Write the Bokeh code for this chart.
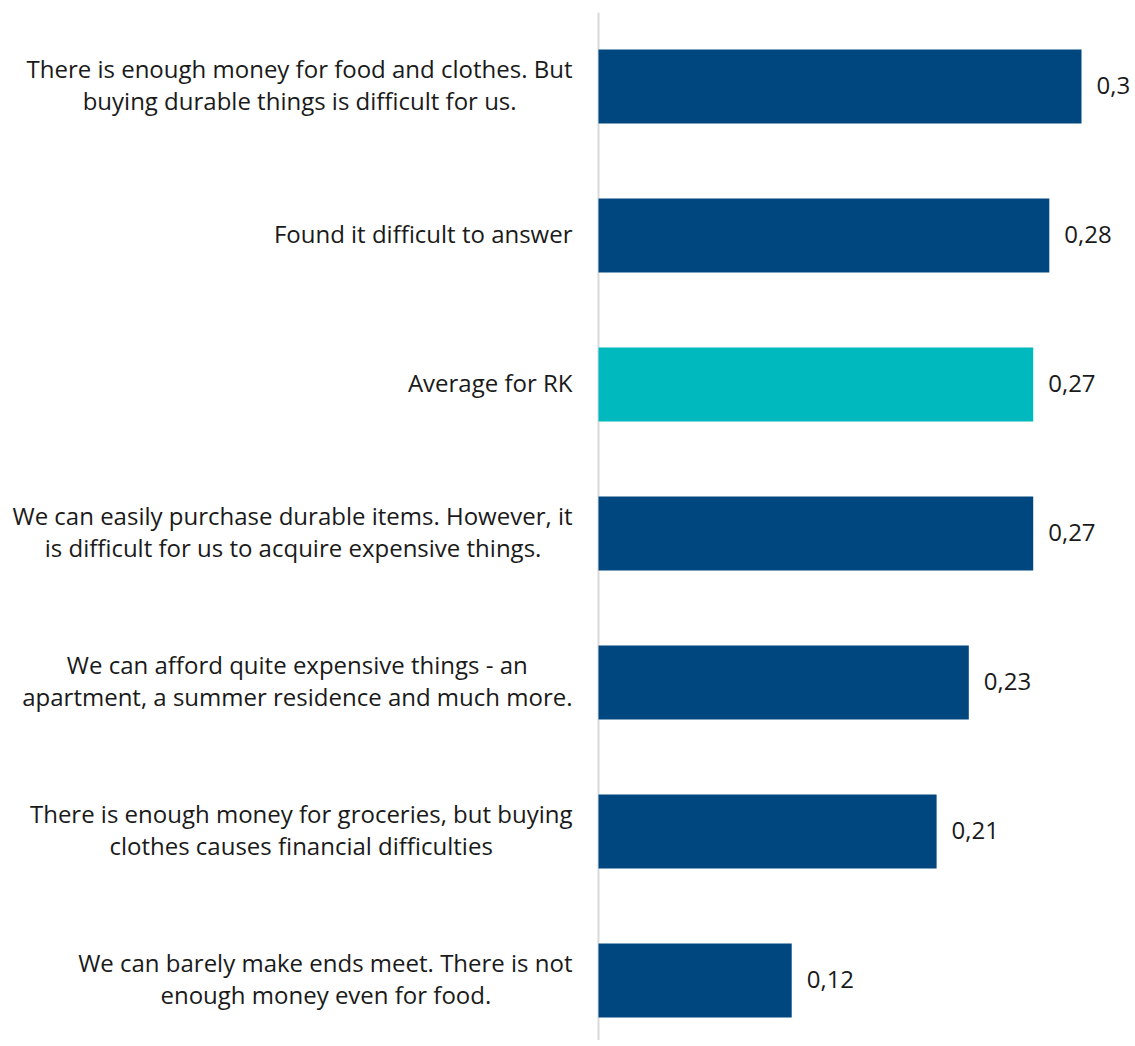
from bokeh.plotting import figure
from bokeh.models import ColumnDataSource, Range1d, Span
from bokeh.core.properties import value
from bokeh.embed import file_html
from bokeh.resources import INLINE

categories = [
    "There is enough money for food and clothes. But\nbuying durable things is difficult for us.",
    "Found it difficult to answer",
    "Average for RK",
    "We can easily purchase durable items. However, it\nis difficult for us to acquire expensive things.",
    "We can afford quite expensive things - an\napartment, a summer residence and much more.",
    "There is enough money for groceries, but buying\nclothes causes financial difficulties",
    "We can barely make ends meet. There is not\nenough money even for food.",
]
values = [0.30, 0.28, 0.27, 0.27, 0.23, 0.21, 0.12]
value_labels = ["0,3", "0,28", "0,27", "0,27", "0,23", "0,21", "0,12"]
highlight = "Average for RK"

DARK = "#00467F"
TEAL = "#00B9BE"
FONT = "Open Sans"
FONT_PX = 24
LINE_PX = 32
STANDOFF = 26
NUDGE_Y = -2

# approximate Open Sans advance widths (units per em = 2048), used only to
# centre the lines of a wrapped label inside its right-aligned block
ADV = dict(zip("abcdefghijklmnopqrstuvwxyz",
               [1139, 1255, 975, 1255, 1149, 694, 1122, 1257, 518, 518, 1075, 518, 1905,
                1257, 1237, 1255, 1255, 836, 977, 723, 1257, 1026, 1593, 1073, 1028, 977]))
ADV.update({" ": 532, ".": 545, ",": 502, "-": 659, "T": 1110, "B": 1315, "W": 1870,
            "F": 1122, "A": 1296, "R": 1300, "K": 1262, "H": 1479})


def text_width(s):
    return sum(ADV.get(ch, 1150) for ch in s) * FONT_PX / 2048.0


n = len(categories)
ypos = [n - 1 - i for i in range(n)]
colors = [TEAL if c == highlight else DARK for c in categories]

src = ColumnDataSource(dict(
    y=ypos, v=values, lab=value_labels, color=colors, zero=[0.0] * n,
))

ly, ltext, lxoff, lyoff = [], [], [], []
for y, cat in zip(ypos, categories):
    lines = cat.split("\n")
    widths = [text_width(s) for s in lines]
    wmax = max(widths)
    k = len(lines)
    for i, (s, w) in enumerate(zip(lines, widths)):
        ly.append(y)
        ltext.append(s)
        lxoff.append(-STANDOFF - (wmax - w) / 2.0)
        lyoff.append((i - (k - 1) / 2.0) * LINE_PX + NUDGE_Y)
lab_src = ColumnDataSource(dict(y=ly, text=ltext, xoff=lxoff, yoff=lyoff, zero=[0.0] * len(ly)))

p = figure(width=1130, height=1040, output_backend="svg", toolbar_location=None,
           x_range=Range1d(-0.37143, 0.33043), y_range=Range1d(-0.4027, 6.4966),
           min_border_left=0, min_border_right=0, min_border_top=12, min_border_bottom=0)
p.axis.visible = False
p.grid.visible = False
p.outline_line_color = None

p.add_layout(Span(location=0, dimension="height", line_color="#D9D9D9",
                  line_width=2, level="underlay"))

p.hbar(y="y", left="zero", right="v", height=0.497, fill_color="color",
       line_color=None, source=src)

p.text(x="zero", y="y", text="text", source=lab_src, x_offset="xoff", y_offset="yoff",
       text_align="right", text_baseline="middle", text_font=value(FONT),
       text_font_size=f"{FONT_PX}px", text_color="#1a1a1a")

p.text(x="v", y="y", text="lab", source=src, x_offset=15, y_offset=NUDGE_Y + 1,
       text_align="left", text_baseline="middle", text_font=value(FONT),
       text_font_size=f"{FONT_PX}px", text_color="#1a1a1a")

open("out.html", "w").write(file_html(p, INLINE))
